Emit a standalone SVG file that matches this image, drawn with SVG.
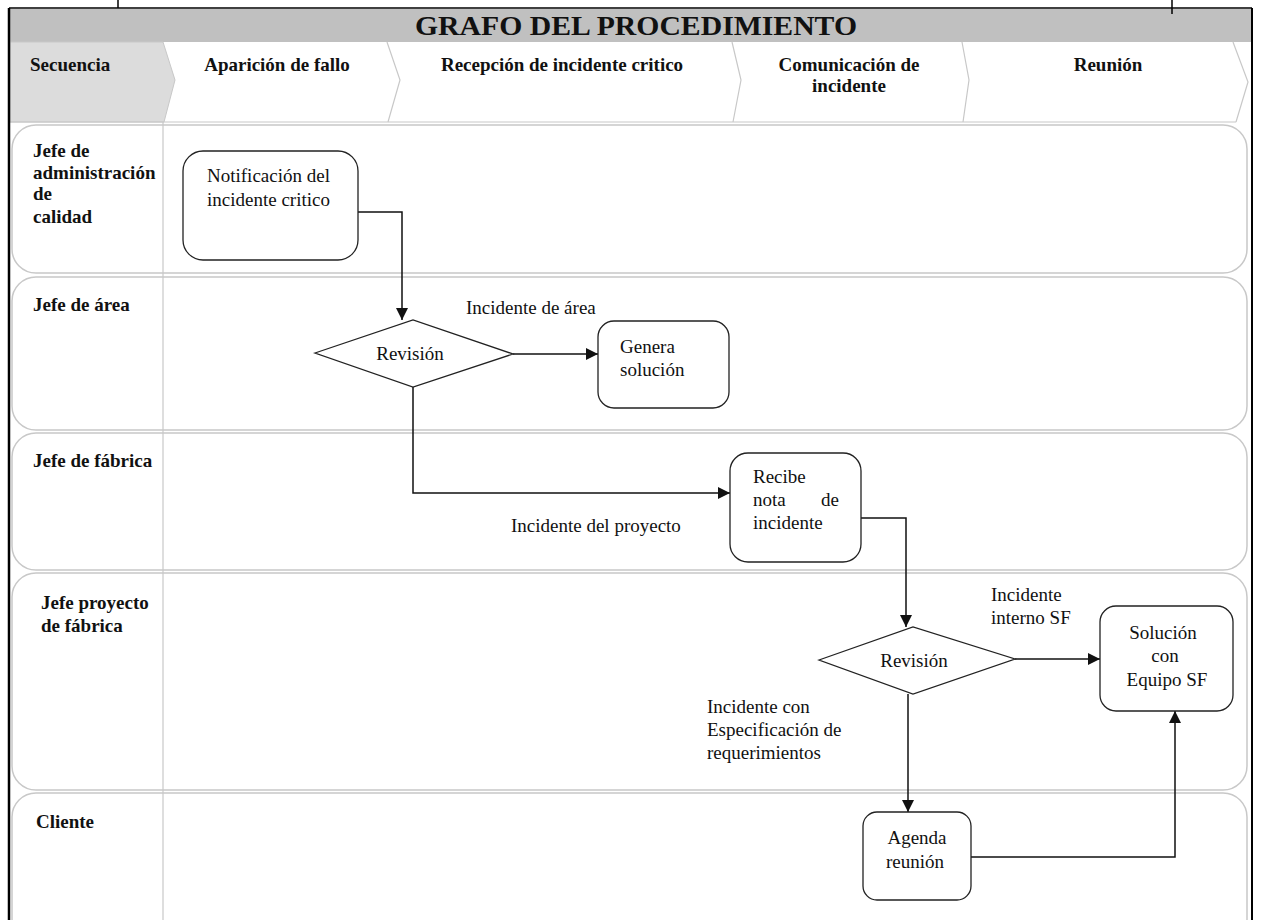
<svg xmlns="http://www.w3.org/2000/svg" width="1263" height="920" viewBox="0 0 1263 920">
  <style>
    .lane { fill: #fff; stroke: #c8c8c8; stroke-width: 1.5; }
    .hdr { font-family: "Liberation Serif", serif; font-weight: bold; font-size: 19px; fill: #111; }
    .lbl { font-family: "Liberation Serif", serif; font-weight: bold; font-size: 19px; fill: #111; }
    .txt { font-family: "Liberation Serif", serif; font-size: 19px; fill: #111; }
    .box { fill: #fff; stroke: #222; stroke-width: 1.3; }
    .edge { fill: none; stroke: #111; stroke-width: 1.5; }
  </style>
  <defs>
    <marker id="arrow" viewBox="0 0 10 10" refX="10" refY="5" markerWidth="12" markerHeight="12" markerUnits="userSpaceOnUse" orient="auto">
      <path d="M0,0 L10,5 L0,10 Z" fill="#111"/>
    </marker>
  </defs>

  <rect width="1263" height="920" fill="#fff"/>

  <!-- title bar -->
  <rect x="10" y="9" width="1242" height="33" fill="#c0c0c0"/>
  <text x="636" y="35" text-anchor="middle" font-family="Liberation Serif, serif" font-weight="bold" font-size="27" fill="#111" textLength="442" lengthAdjust="spacingAndGlyphs">GRAFO DEL PROCEDIMIENTO</text>

  <!-- sequence header (chevrons) -->
  <g id="header">
    <path d="M10,42 H163 L175,80 L164,122 H10 Z" fill="#dcdcdc" stroke="#c8c8c8" stroke-width="1"/>
    <path d="M387,42 L400,80 L388,122" fill="none" stroke="#c8c8c8" stroke-width="1.2"/>
    <path d="M732,42 L741,80 L733,122" fill="none" stroke="#c8c8c8" stroke-width="1.2"/>
    <path d="M962,42 L969,80 L963,122" fill="none" stroke="#c8c8c8" stroke-width="1.2"/>
    <path d="M1233,42 L1248,82 L1236,122" fill="none" stroke="#c8c8c8" stroke-width="1.2"/>
    <line x1="10" y1="122" x2="1236" y2="122" stroke="#c8c8c8" stroke-width="1.2"/>
    <text class="hdr" x="30" y="71">Secuencia</text>
    <text class="hdr" x="277" y="71" text-anchor="middle">Aparición de fallo</text>
    <text class="hdr" x="562" y="71" text-anchor="middle">Recepción de incidente critico</text>
    <text class="hdr" x="849" y="71" text-anchor="middle">Comunicación de</text>
    <text class="hdr" x="849" y="92" text-anchor="middle">incidente</text>
    <text class="hdr" x="1108" y="71" text-anchor="middle">Reunión</text>
  </g>

  <!-- swimlanes -->
  <g id="lanes">
    <rect class="lane" x="12" y="125" width="1235" height="148" rx="24"/>
    <rect class="lane" x="12" y="277" width="1235" height="153" rx="24"/>
    <rect class="lane" x="12" y="433" width="1235" height="137" rx="24"/>
    <rect class="lane" x="12" y="573" width="1235" height="217" rx="24"/>
    <rect class="lane" x="12" y="793" width="1235" height="150" rx="24"/>
    <line x1="163" y1="122" x2="163" y2="920" stroke="#c8c8c8" stroke-width="1.2"/>
    <text class="lbl" x="33" y="157">Jefe de</text>
    <text class="lbl" x="33" y="179">administración</text>
    <text class="lbl" x="33" y="200">de</text>
    <text class="lbl" x="33" y="223">calidad</text>
    <text class="lbl" x="33" y="311">Jefe de área</text>
    <text class="lbl" x="33" y="467">Jefe de fábrica</text>
    <text class="lbl" x="41" y="609">Jefe proyecto</text>
    <text class="lbl" x="41" y="632">de fábrica</text>
    <text class="lbl" x="36" y="828">Cliente</text>
  </g>

  <!-- connectors -->
  <g id="connectors">
    <path class="edge" d="M358,212 H402 V320" marker-end="url(#arrow)"/>
    <path class="edge" d="M513,354 H598" marker-end="url(#arrow)"/>
    <path class="edge" d="M413,387 V493 H730" marker-end="url(#arrow)"/>
    <path class="edge" d="M861,518 H906 V627" marker-end="url(#arrow)"/>
    <path class="edge" d="M1015,659 H1100" marker-end="url(#arrow)"/>
    <path class="edge" d="M908,694 V812" marker-end="url(#arrow)"/>
    <path class="edge" d="M971,857 H1175 V711" marker-end="url(#arrow)"/>
    <text class="txt" x="466" y="314">Incidente de área</text>
    <text class="txt" x="511" y="532">Incidente del proyecto</text>
    <text class="txt" x="991" y="601">Incidente</text>
    <text class="txt" x="991" y="624">interno SF</text>
    <text class="txt" x="707" y="713">Incidente con</text>
    <text class="txt" x="707" y="736">Especificación de</text>
    <text class="txt" x="707" y="759">requerimientos</text>
  </g>

  <!-- nodes -->
  <g id="notificacion">
    <rect class="box" x="183" y="151" width="175" height="109" rx="20"/>
    <text class="txt" x="207" y="182">Notificación del</text>
    <text class="txt" x="207" y="206">incidente critico</text>
  </g>
  <g id="revision1">
    <polygon class="box" points="315,353 413,320 513,354 413,387"/>
    <text class="txt" x="410" y="360" text-anchor="middle">Revisión</text>
  </g>
  <g id="genera">
    <rect class="box" x="598" y="321" width="131" height="87" rx="16"/>
    <text class="txt" x="620" y="353">Genera</text>
    <text class="txt" x="620" y="376">solución</text>
  </g>
  <g id="recibe">
    <rect class="box" x="730" y="453" width="131" height="109" rx="18"/>
    <text class="txt" x="753" y="483">Recibe</text>
    <text class="txt" x="753" y="506">nota</text>
    <text class="txt" x="839" y="506" text-anchor="end">de</text>
    <text class="txt" x="753" y="529">incidente</text>
  </g>
  <g id="revision2">
    <polygon class="box" points="819,660 913,627 1015,659 913,694"/>
    <text class="txt" x="914" y="667" text-anchor="middle">Revisión</text>
  </g>
  <g id="solucion">
    <rect class="box" x="1100" y="606" width="133" height="105" rx="16"/>
    <text class="txt" x="1163" y="639" text-anchor="middle">Solución</text>
    <text class="txt" x="1165" y="662" text-anchor="middle">con</text>
    <text class="txt" x="1167" y="686" text-anchor="middle">Equipo SF</text>
  </g>
  <g id="agenda">
    <rect class="box" x="863" y="812" width="108" height="88" rx="14"/>
    <text class="txt" x="917" y="844" text-anchor="middle">Agenda</text>
    <text class="txt" x="915" y="868" text-anchor="middle">reunión</text>
  </g>

  <!-- outer frame -->
  <g id="frame">
    <line x1="9" y1="8" x2="1252" y2="8" stroke="#000" stroke-width="1.5"/>
    <line x1="9" y1="8" x2="9" y2="920" stroke="#000" stroke-width="2.5"/>
    <line x1="1252" y1="8" x2="1252" y2="920" stroke="#000" stroke-width="2"/>
    <line x1="118" y1="0" x2="118" y2="8" stroke="#000" stroke-width="1.5"/>
    <line x1="1172" y1="0" x2="1172" y2="14" stroke="#000" stroke-width="1.5"/>
  </g>
</svg>
